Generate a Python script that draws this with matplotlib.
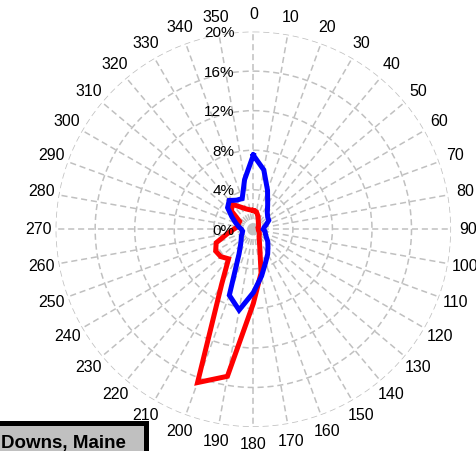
import numpy as np
import matplotlib
matplotlib.use('Agg')
import matplotlib.pyplot as plt
from matplotlib.patches import Rectangle

plt.rcParams['font.family'] = ['Liberation Sans', 'DejaVu Sans']

# wind direction bins (degrees) and frequency (%) for the two series
directions = list(range(0, 360, 10))
blue_pct = [7.5, 6.1, 4.2, 2.9, 2.2, 1.9, 1.8, 1.4, 1.1, 1.0, 1.2, 1.3,
            1.5, 1.9, 2.3, 2.9, 3.6, 4.8, 6.4, 8.3, 7.1, 2.9, 2.0, 1.6,
            1.4, 1.2, 1.1, 1.2, 1.5, 1.9, 2.5, 3.4, 3.8, 3.4, 3.3, 5.1]
red_pct = [1.9, 1.8, 1.4, 1.0, 0.8, 0.7, 0.6, 0.5, 0.5, 0.5, 0.6, 0.6,
           0.7, 0.8, 0.9, 1.2, 1.9, 4.5, 7.5, 15.1, 16.5, 6.4, 3.9, 4.3,
           4.4, 4.0, 2.7, 2.0, 1.6, 1.6, 1.6, 2.9, 3.3, 2.6, 2.2, 2.0]
ring_values = [4, 8, 12, 16, 20]
ring_labels = ['0%', '4%', '8%', '12%', '16%', '20%']
station = 'Downs, Maine'

fig = plt.figure(figsize=(4.77, 4.51), dpi=100)
ax = fig.add_axes([0.1166, 0.0532, 0.829, 0.8768], projection='polar')
ax.set_theta_zero_location('N')
ax.set_theta_direction(-1)

grid_col = '#c0c0c0'
ax.set_thetagrids(directions, [str(d) for d in directions])
ax.set_rgrids([0.45] + ring_values, [''] * (len(ring_values) + 1))
ax.set_ylim(0, 20)
ax.grid(True, color=grid_col, linestyle=(0, (4, 2.5)), linewidth=1.1)
ax.spines['polar'].set_visible(False)
ax.tick_params(axis='x', labelsize=11.5, pad=2)

th = np.deg2rad(directions + [directions[0]])
ax.plot(th, red_pct + [red_pct[0]], color='#ff0000', lw=3.6, solid_joinstyle='miter')
ax.plot(th, blue_pct + [blue_pct[0]], color='#0000ff', lw=3.6, solid_joinstyle='miter')

for r, lab in zip([0] + ring_values, ring_labels):
    ax.annotate(lab, xy=(0, r), xytext=(-19, -1.5), textcoords='offset pixels',
                ha='right', va='center', fontsize=11, annotation_clip=False)

# station label box in the lower-left corner
box = Rectangle((-0.05, -0.05), 0.357, 0.111, transform=fig.transFigure,
                facecolor='#c0c0c0', edgecolor='black', linewidth=3.6, clip_on=False)
fig.patches.append(box)
fig.text(0.002, 0.007, station, fontsize=13.5, fontweight='bold', ha='left', va='baseline')

fig.savefig('out.png', dpi=100)
